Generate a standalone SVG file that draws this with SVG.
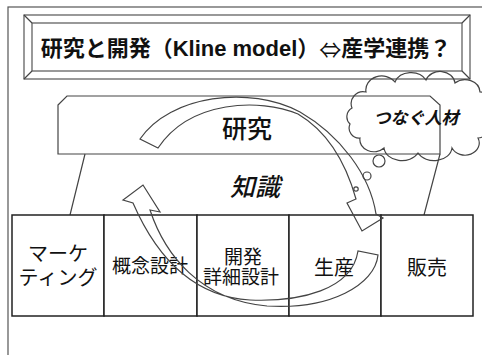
<svg xmlns="http://www.w3.org/2000/svg" width="482" height="355" viewBox="0 0 482 355">
<style>
  .ln { fill: none; stroke: #444; stroke-width: 1.2; }
  .box { fill: #fff; stroke: #222; stroke-width: 1.5; }
  .t { font-family: "Liberation Sans", "Noto Sans CJK JP", sans-serif; fill: #111; text-anchor: middle; dominant-baseline: central; }
  .arrow { fill: none; stroke: #444; stroke-width: 1.2; stroke-linejoin: miter; }
</style>
<rect x="0" y="0" width="482" height="355" fill="#fff"/>
<g id="frame">
  <rect x="8" y="7" width="520" height="400" fill="none" stroke="#555" stroke-width="1.2"/>
</g>
<g id="title">
  <rect x="24" y="15" width="446" height="64" fill="#fff" stroke="#555" stroke-width="1.2"/>
  <rect x="32" y="23" width="430" height="48" fill="#fff" stroke="#555" stroke-width="1.2"/>
  <path class="ln" d="M24,15 L32,23 M470,15 L462,23 M24,79 L32,71 M470,79 L462,71"/>
  <text class="t" x="246" y="48" font-size="22" font-weight="bold">研究と開発（Kline model）<tspan font-family="Noto Sans CJK JP, sans-serif" font-weight="normal">⇔</tspan>産学連携？</text>
</g>
<g id="research">
  <path class="ln" d="M85,154 L70,215 M440,154 L424,215"/>
  <polygon points="58,105 67,96 430,96 440,105 440,154 58,154" fill="none" stroke="#444" stroke-width="1.2"/>
  <text class="t" x="247" y="129" font-size="25" font-weight="500">研究</text>
</g>
<g id="knowledge">
  <text class="t" x="255" y="187" font-size="25" font-style="italic" font-weight="500">知識</text>
</g>
<g id="cloud">
  <path class="ln" d="M352,108 A12,12 0 0 1 366,92 A16,14 0 0 1 395,82 A17,14 0 0 1 426,80 A15,13 0 0 1 455,83 A15,13 0 0 1 480,92 A12,14 0 0 1 486,118 A12,12 0 0 1 478,138 A14,12 0 0 1 452,148 A18,14 0 0 1 418,153 A18,14 0 0 1 384,148 A14,12 0 0 1 360,138 A10,10 0 0 1 350,124 A10,10 0 0 1 352,108 Z"/>
  <circle class="ln" cx="379" cy="161" r="6"/>
  <circle class="ln" cx="367" cy="176" r="4"/>
  <circle class="ln" cx="356" cy="189" r="2.2"/>
  <text class="t" x="416" y="118" font-size="17" font-style="italic" font-weight="bold">つなぐ人材</text>
</g>
<g id="marketing">
  <rect class="box" x="12" y="215" width="92" height="101"/>
  <text class="t" x="58" y="254" font-size="20">マーケ</text>
  <text class="t" x="58" y="278" font-size="20">ティング</text>
</g>
<g id="concept">
  <rect class="box" x="104" y="215" width="93" height="101"/>
  <text class="t" x="150" y="266" font-size="19">概念設計</text>
</g>
<g id="development">
  <rect class="box" x="197" y="215" width="92" height="101"/>
  <text class="t" x="243" y="257" font-size="19">開発</text>
  <text class="t" x="241" y="277" font-size="19">詳細設計</text>
</g>
<g id="production">
  <rect class="box" x="289" y="215" width="92" height="101"/>
  <text class="t" x="334" y="268" font-size="20">生産</text>
</g>
<g id="sales">
  <rect class="box" x="381" y="215" width="92" height="101"/>
  <text class="t" x="427" y="268" font-size="20">販売</text>
</g>
<g id="connectors">
  <path class="arrow" d="M140,139 C170,95 250,85 300,112 C340,135 370,175 376,214 L383,218 L362,231 L347,203 L356,199 C345,160 325,130 298,114 C260,98 190,100 158,148 Z"/>
  <path class="arrow" d="M358,251 C352,290 300,302 250,300 C200,297 160,265 133,203 L123,200 L143,185 L160,212 L150,210 C165,255 200,300 267,306 C330,310 375,285 378,255 Z"/>
</g>
</svg>
